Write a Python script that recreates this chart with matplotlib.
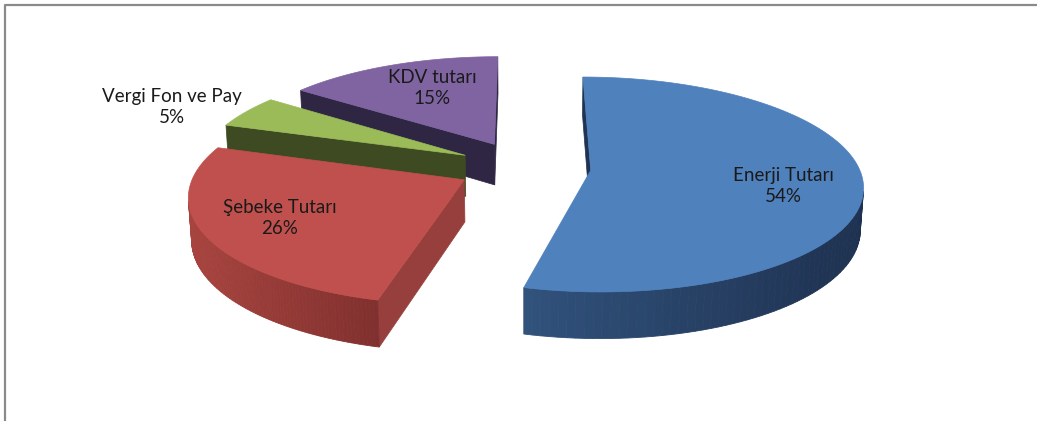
import numpy as np
import matplotlib.pyplot as plt
from matplotlib.patches import Polygon
from matplotlib.colors import to_rgb

labels = ['Enerji Tutarı', 'Şebeke Tutarı', 'Vergi Fon ve Pay', 'KDV tutarı']
values = [54, 26, 5, 15]
top_colors = ['#4F81BD', '#C0504D', '#9BBB59', '#8064A2']
wall_light = ['#31527C', '#A8443F', '#46552A', '#3A2F52']
wall_dark = ['#1E3150', '#80302E', '#3A4620', '#2C2440']
radial_colors = ['#1F3452', '#963F3D', '#3E4B22', '#2F2643']

# 3D view setup (pixel space)
cx, cy = 524, 167
S = 268
phi = np.radians(23)
D = 7.0
T = 0.17
explode = 0.25
cam = np.array([0.0, -D * np.cos(phi), D * np.sin(phi)])


def project(X, Y, Z):
    d = Y * np.cos(phi) - Z * np.sin(phi)
    v = Y * np.sin(phi) + Z * np.cos(phi)
    s = D / (D + d)
    return cx + S * X * s, cy - S * v * s


def facing(normal, point):
    return np.dot(normal, cam - point) > 0


def lerp(c1, c2, t):
    a, b = np.array(to_rgb(c1)), np.array(to_rgb(c2))
    return tuple(a + (b - a) * t)


fig = plt.figure(figsize=(10.37, 4.21), dpi=100)
ax = fig.add_axes([0, 0, 1, 1])
ax.set_xlim(0, 1037)
ax.set_ylim(421, 0)
ax.axis('off')

# chart area border
ax.plot([5, 5, 1040], [425, 4.5, 4.5], color='#8A8A8A', lw=1.6)

fracs = np.array(values) / sum(values)
starts = 90 - 360 * np.concatenate([[0], np.cumsum(fracs)[:-1]])
ends = starts - 360 * fracs

slices = []
for i in range(len(values)):
    a0, a1 = np.radians(starts[i]), np.radians(ends[i])
    mid = (a0 + a1) / 2
    ox, oy = explode * np.cos(mid), explode * np.sin(mid)
    slices.append((oy, i, a0, a1, mid, ox))

# back slices first
for oy, i, a0, a1, mid, ox in sorted(slices, reverse=True):
    ang = np.linspace(a0, a1, 120)
    ex, ey = ox + np.cos(ang), oy + np.sin(ang)

    # radial walls
    for a, nrm_a in [(a0, a0 + np.pi / 2), (a1, a1 - np.pi / 2)]:
        n = np.array([np.cos(nrm_a), np.sin(nrm_a), 0])
        p = np.array([ox + 0.5 * np.cos(a), oy + 0.5 * np.sin(a), -T / 2])
        if facing(n, p):
            pts = [project(ox, oy, 0), project(ox + np.cos(a), oy + np.sin(a), 0),
                   project(ox + np.cos(a), oy + np.sin(a), -T), project(ox, oy, -T)]
            ax.add_patch(Polygon(pts, closed=True, fc=radial_colors[i], ec=radial_colors[i], lw=0.5))

    # outer curved wall
    tx, ty = project(ex, ey, 0)
    bx, by = project(ex, ey, -T)
    vis = []
    for k in range(len(ang) - 1):
        am = (ang[k] + ang[k + 1]) / 2
        n = np.array([np.cos(am), np.sin(am), 0])
        p = np.array([ox + np.cos(am), oy + np.sin(am), -T / 2])
        if facing(n, p):
            vis.append(k)
    if vis:
        xmin = min(tx[vis].min(), tx[vis[-1] + 1])
        xmax = max(tx[vis].max(), tx[vis[-1] + 1])
        for k in vis:
            t = ((tx[k] + tx[k + 1]) / 2 - xmin) / max(xmax - xmin, 1)
            c = lerp(wall_light[i], wall_dark[i], t)
            pts = [(tx[k], ty[k]), (tx[k + 1], ty[k + 1]), (bx[k + 1], by[k + 1]), (bx[k], by[k])]
            ax.add_patch(Polygon(pts, closed=True, fc=c, ec=c, lw=0.6))

    # top face
    px, py = project(np.concatenate([[ox], ex]), np.concatenate([[oy], ey]), 0)
    ax.add_patch(Polygon(np.column_stack([px, py]), closed=True,
                         fc=top_colors[i], ec=top_colors[i], lw=0.5))

# data labels
label_pos = [(783, 186), (280, 218), (172, 107), (432, 88)]
for i, (x, y) in enumerate(label_pos):
    ax.text(x, y, f'{labels[i]}\n{values[i]}%', ha='center', va='center',
            fontsize=13.5, family='Lato', color='#1A1A1A', linespacing=1.25)

fig.savefig('out.png', dpi=100)
